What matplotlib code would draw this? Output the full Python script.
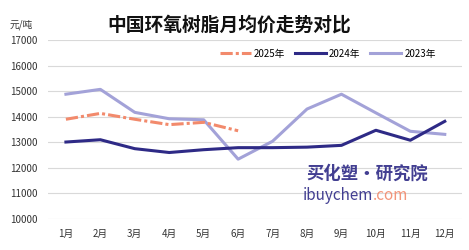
import matplotlib.pyplot as plt

plt.rcParams['font.family'] = ['Noto Sans CJK SC', 'DejaVu Sans']

months = ['1月', '2月', '3月', '4月', '5月', '6月', '7月', '8月', '9月', '10月', '11月', '12月']
price_2025 = [13900, 14130, 13900, 13690, 13780, 13450]
price_2024 = [13010, 13100, 12750, 12600, 12710, 12790, 12790, 12810, 12880, 13470, 13080, 13820]
price_2023 = [14880, 15070, 14170, 13920, 13880, 12340, 13040, 14300, 14880, 14150, 13430, 13310]
yticks = [10000, 11000, 12000, 13000, 14000, 15000, 16000, 17000]

fig = plt.figure(figsize=(4.69, 2.5), dpi=100)
ax = fig.add_axes([48 / 469, 1 - 219 / 250, 414 / 469, 179 / 250])

x = list(range(len(months)))
ax.plot(x, price_2023, color='#A3A2D8', lw=2.2, label='2023年', zorder=2)
ax.plot(x, price_2024, color='#2E2A86', lw=2.2, label='2024年', zorder=3)
ax.plot(x[:len(price_2025)], price_2025, color='#F28A6C', lw=2.2, ls=(0, (4, 1, 1, 1)),
        label='2025年', zorder=4)

ax.set_xlim(-0.52, 11.5)
ax.set_ylim(10000, 17000)
ax.set_yticks(yticks)
ax.set_yticklabels([str(v) for v in yticks], fontsize=7, color='#333333', ha='left')
ax.set_xticks(x)
ax.set_xticklabels(months, fontsize=7, color='#333333')
ax.grid(axis='y', color='#D9D9D9', lw=0.8)
ax.set_axisbelow(True)
for s in ax.spines.values():
    s.set_visible(False)
ax.tick_params(length=0)
ax.tick_params(axis='y', pad=27)
ax.tick_params(axis='x', pad=7)

h, l = ax.get_legend_handles_labels()
ax.legend(h[::-1], l[::-1], loc='upper right', bbox_to_anchor=(0.958, 1.0), ncol=3, frameon=False,
          fontsize=7, handlelength=3.2, columnspacing=1.0, handletextpad=0.3)

fig.text(10 / 469, 1 - 25 / 250, '元/吨', fontsize=7, color='#333333', va='center')
fig.text(229 / 469, 1 - 25 / 250, '中国环氧树脂月均价走势对比', fontsize=13.5, fontweight='bold',
         color='#111111', ha='center', va='center')

# watermark
fig.text(367 / 469, 1 - 174 / 250, '买化塑·研究院', fontsize=12.5, fontweight='bold', style='italic',
         color='#2E2A86', ha='center', va='center', alpha=0.9)
t = fig.text(303 / 469, 1 - 196 / 250, 'ibuychem', fontsize=11, color='#2E2A86', ha='left',
             va='center', alpha=0.9)
ax.annotate('.com', xy=(1, 0.5), xycoords=t, fontsize=11, color='#F28A6C', ha='left',
            va='center', alpha=0.9)

fig.savefig('out.png', dpi=100)
